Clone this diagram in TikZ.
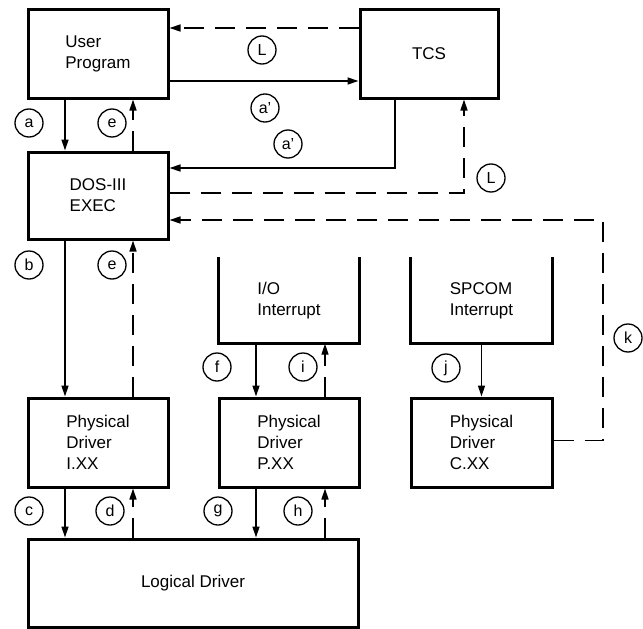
\documentclass[tikz,border=0pt]{standalone}
\usepackage{fontspec}
\setmainfont{Liberation Sans}
\usetikzlibrary{shapes,arrows.meta}

\begin{document}
\begin{tikzpicture}[x=1pt, y=-1pt, line width=1.4pt,
	box/.style={draw, line width=3pt, align=left, inner sep=0pt, font=\fontsize{17}{21}\selectfont},
	openbox/.style={align=left, inner sep=0pt, font=\fontsize{17}{21}\selectfont},
	tag/.style={draw, circle, minimum size=28pt, inner sep=0pt, line width=1.3pt, font=\fontsize{16}{16}\selectfont},
	back/.style={dashed, dash pattern=on 20pt off 11pt},
	>={Triangle[length=11pt, width=7pt]}]
			\useasboundingbox (0,0) rectangle (643,629);
			\node[box, minimum width=140pt, minimum height=89pt] (user) at (98,53.5) {User\\Program};
			\node[box, minimum width=138pt, minimum height=89pt] (tcs) at (429,53.5) {TCS};
			\node[box, minimum width=140pt, minimum height=87pt] (dos) at (98,195.5) {DOS-III\\EXEC};
			\node[openbox, minimum width=140pt, minimum height=85pt] (io) at (289,300.5) {I/O\\Interrupt};
			\node[openbox, minimum width=141pt, minimum height=85pt] (spcom) at (481.5,300.5) {SPCOM\\Interrupt};
			\node[box, minimum width=140pt, minimum height=89pt] (pdi) at (98,442.5) {Physical\\Driver\\I.XX};
			\node[box, minimum width=140pt, minimum height=89pt] (pdp) at (289,442.5) {Physical\\Driver\\P.XX};
			\node[box, minimum width=141pt, minimum height=89pt] (pdc) at (481.5,442.5) {Physical\\Driver\\C.XX};
			\node[box, minimum width=330pt, minimum height=88pt] (logical) at (193,583) {Logical Driver};
			\draw[line width=3pt] (io.north west) -- (io.south west) -- (io.south east) -- (io.north east);
			\draw[line width=3pt] (spcom.north west) -- (spcom.south west) -- (spcom.south east) -- (spcom.north east);
			\coordinate (kcorner) at (603,220);
			\draw[back, ->] ([yshift=25.5pt]tcs.west) -- ([yshift=25.5pt]user.east);
			\draw[->] ([yshift=-27.5pt]user.east) -- ([yshift=-27.5pt]tcs.west);
			\draw[->] ([xshift=-34pt]tcs.south) |- ([yshift=27.5pt]dos.east);
			\draw[back, ->] ([yshift=2.5pt]dos.east) -| ([xshift=35pt]tcs.south);
			\draw[back, ->] ([yshift=2pt]pdc.east) -| (kcorner) -- ([yshift=-24.5pt]dos.east);
			\draw[->] ([xshift=-33pt]user.south) -- ([xshift=-33pt]dos.north);
			\draw[back, ->] ([xshift=35pt]dos.north) -- ([xshift=35pt]user.south);
			\draw[->] ([xshift=-33pt]dos.south) -- ([xshift=-33pt]pdi.north);
			\draw[back, ->] ([xshift=35pt]pdi.north) -- ([xshift=35pt]dos.south);
			\draw[->] ([xshift=-33pt]io.south) -- ([xshift=-33pt]pdp.north);
			\draw[back, ->] ([xshift=36pt]pdp.north) -- ([xshift=36pt]io.south);
			\draw[->] (spcom.south) -- (pdc.north);
			\draw[->] ([xshift=-33pt]pdi.south) -- ([xshift=-33pt]pdi.south |- logical.north);
			\draw[back, ->] ([xshift=35pt]pdi.south |- logical.north) -- ([xshift=35pt]pdi.south);
			\draw[->] ([xshift=-33pt]pdp.south) -- ([xshift=-33pt]pdp.south |- logical.north);
			\draw[back, ->] ([xshift=36pt]pdp.south |- logical.north) -- ([xshift=36pt]pdp.south);
			\node[tag] (tagL) at (262,50) {L};
			\node[tag] (tagap) at (265,108) {a'};
			\node[tag] (tagapp) at (288,144) {a'};
			\node[tag] (tagLL) at (491,178) {L};
			\node[tag] (taga) at (29,123) {a};
			\node[tag] (tage) at (112,123) {e};
			\node[tag] (tagb) at (29,265) {b};
			\node[tag] (tagee) at (112,265) {e};
			\node[tag] (tagf) at (217,367) {f};
			\node[tag] (tagi) at (303,367) {i};
			\node[tag] (tagj) at (446,368) {j};
			\node[tag] (tagk) at (628,338) {k};
			\node[tag] (tagc) at (29,511) {c};
			\node[tag] (tagd) at (110,511) {d};
			\node[tag] (tagg) at (218,511) {g};
			\node[tag] (tagh) at (298,511) {h};
		\end{tikzpicture}
\end{document}
